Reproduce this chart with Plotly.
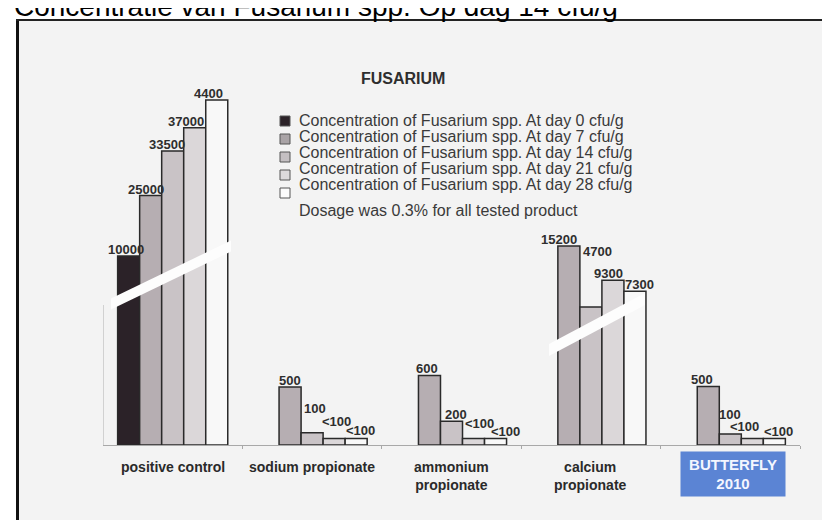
import plotly.graph_objects as go

W, H = 830, 520
FONT = "Liberation Sans, Arial, Helvetica, sans-serif"

# ---------------- data ----------------
title_text = "Concentratie van Fusarium spp. Op dag 14 cfu/g"
chart_title = "FUSARIUM"
note_text = "Dosage was 0.3% for all tested product"

categories = ["positive control", "sodium propionate", "ammonium<br>propionate",
              "calcium<br>propionate", "BUTTERFLY<br>2010"]
series_names = [
    "Concentration of Fusarium spp. At day 0 cfu/g",
    "Concentration of Fusarium spp. At day 7 cfu/g",
    "Concentration of Fusarium spp. At day 14 cfu/g",
    "Concentration of Fusarium spp. At day 21 cfu/g",
    "Concentration of Fusarium spp. At day 28 cfu/g",
]

# bar heights as drawn on the chart's hidden (broken) value axis
day0 = [1630, None, None, None, None]
day7 = [2150, 500, 600, 1715, 505]
day14 = [2535, 105, 205, 1190, 95]
day21 = [2735, 55, 55, 1420, 55]
day28 = [2975, 55, 55, 1325, 55]

# value labels printed on the chart
day0_text = ["10000", None, None, None, None]
day7_text = ["25000", "500", "600", "15200", "500"]
day14_text = ["33500", "100", "200", "4700", "100"]
day21_text = ["37000", "<100", "<100", "9300", "<100"]
day28_text = ["4400", "<100", "<100", "7300", "<100"]

# ---------------- styling / placement ----------------
bar_colors = ["#2b2228", "#b6aeb2", "#c9c3c6", "#dbd7d9", "#f8f8f8"]
legend_colors = ["#2b2228", "#a9a3a6", "#c4bfc2", "#dcd9db", "#fbfbfb"]
# manual offsets (px) of the value labels, as placed in the original
label_dx = [[-3, 0, 0, 0, 0],
            [-5, 0, -2, -10, -6],
            [-6, 3, 4, 7, 0],
            [-9, 2, 6, -4, -8],
            [-8, 4, 10, 5, 4]]
label_dy = [[0, 0, 0, 0, 0],
            [0, 0, 0, 0, 0],
            [0, 18, 0, 49, 13],
            [0, 11, 9, 0, 6],
            [0, 2, 1, 0, 1]]

heights = [day0, day7, day14, day21, day28]
texts = [day0_text, day7_text, day14_text, day21_text, day28_text]

X0, X1 = 95, 792      # plot area (px)
YB, YT = 437, 60
YMAX = 3250
BARGAP = 0.21
BW = (1 - BARGAP) / 5


def px(p):
    return p / W


def py(p):
    return 1 - p / H


def ux(p):  # pixel x -> x-axis units
    return (p - X0) / (X1 - X0) * 5 - 0.5


def uy(p):  # pixel y -> y-axis units
    return (YB - p) / (YB - YT) * YMAX


fig = go.Figure()
xs = list(range(len(categories)))
for s in range(5):
    fig.add_trace(go.Bar(
        x=xs, y=heights[s], name=series_names[s],
        marker=dict(color=bar_colors[s], line=dict(color="#2a2a2a", width=1.5)),
        showlegend=False,
    ))

shapes = []
# frame background + borders
shapes.append(dict(type="rect", xref="paper", yref="paper", x0=px(9), x1=px(900),
                   y0=py(600), y1=py(12), fillcolor="#f3f3f3", line=dict(width=0),
                   layer="below"))
shapes.append(dict(type="line", xref="paper", yref="paper", x0=px(9.5), x1=px(9.5),
                   y0=py(11), y1=py(600), line=dict(color="#111", width=3), layer="below"))
shapes.append(dict(type="line", xref="paper", yref="paper", x0=px(8), x1=px(900),
                   y0=py(12), y1=py(12), line=dict(color="#222", width=2), layer="below"))
# remnant of the value axis below the break
shapes.append(dict(type="line", xref="x", yref="y", x0=-0.5, x1=-0.5, y0=0, y1=uy(297),
                   line=dict(color="#b0b0b0", width=1), layer="below"))


def band(px0, pyc0, px1, pyc1, thick):
    a, b = ux(px0), ux(px1)
    y0a, y0b = uy(pyc0 - thick / 2), uy(pyc0 + thick / 2)
    y1a, y1b = uy(pyc1 - thick / 2), uy(pyc1 + thick / 2)
    return dict(type="path", xref="x", yref="y",
                path=f"M {a},{y0a} L {b},{y1a} L {b},{y1b} L {a},{y0b} Z",
                fillcolor="#fdfdfd", line=dict(width=0), layer="above")


shapes.append(band(103, 296, 223, 238, 11))
shapes.append(band(541, 342, 637, 291, 12))

annotations = []
# page title (cut off at the top, as in the original)
annotations.append(dict(text=title_text, xref="paper", yref="paper", x=px(4), y=py(16),
                        xanchor="left", yanchor="bottom", showarrow=False,
                        font=dict(family=FONT, size=28, color="#000")))
# chart title
annotations.append(dict(text=chart_title, xref="paper", yref="paper", x=px(395), y=py(71),
                        xanchor="center", yanchor="middle", showarrow=False,
                        font=dict(family=FONT, size=16, color="#2e2e2e", weight="bold")))
# custom legend
row_y = [112, 128, 144, 160, 176]
mark_y = [113, 131, 149, 167, 185]
for s in range(5):
    annotations.append(dict(text=series_names[s], xref="paper", yref="paper",
                            x=px(289), y=py(row_y[s]), xanchor="left", yanchor="middle",
                            showarrow=False,
                            font=dict(family=FONT, size=16, color="#3a3a3a")))
    shapes.append(dict(type="rect", xref="paper", yref="paper",
                       x0=px(272), x1=px(282), y0=py(mark_y[s] + 5), y1=py(mark_y[s] - 5),
                       fillcolor=legend_colors[s], line=dict(color="#555", width=1)))
annotations.append(dict(text=note_text, xref="paper", yref="paper", x=px(289), y=py(203),
                        xanchor="left", yanchor="middle", showarrow=False,
                        font=dict(family=FONT, size=16, color="#3a3a3a")))

# value labels
for s in range(5):
    for i in xs:
        t = texts[s][i]
        if t is None:
            continue
        annotations.append(dict(text=t, xref="x", yref="y", x=i + (s - 2) * BW,
                                y=heights[s][i], xanchor="center", yanchor="bottom",
                                xshift=label_dx[s][i], yshift=label_dy[s][i] - 3,
                                showarrow=False,
                                font=dict(family=FONT, size=13, color="#2e2e2e",
                                          weight="bold")))

# category labels
for i, c in enumerate(categories):
    if i == 4:
        annotations.append(dict(text=c, xref="x", yref="paper", x=i, y=py(466),
                                xanchor="center", yanchor="middle", xshift=3,
                                showarrow=False, width=100, height=40, borderpad=2,
                                bgcolor="#5b84d4", align="center",
                                font=dict(family=FONT, size=15, color="#f4f6ff",
                                          weight="bold")))
    else:
        annotations.append(dict(text=c, xref="x", yref="paper", x=i, y=py(449),
                                xanchor="center", yanchor="top", showarrow=False,
                                align="center",
                                font=dict(family=FONT, size=14, color="#2a2a2a",
                                          weight="bold")))

fig.update_layout(
    width=W, height=H,
    margin=dict(l=0, r=0, t=0, b=0),
    paper_bgcolor="#ffffff", plot_bgcolor="rgba(0,0,0,0)",
    barmode="group", bargap=BARGAP, bargroupgap=0,
    shapes=shapes, annotations=annotations,
    xaxis=dict(domain=[px(X0), px(X1)], range=[-0.5, 4.5], showgrid=False, zeroline=False,
               showline=True, linecolor="#a8a8a8", linewidth=1,
               tickmode="array", tickvals=[0.5, 1.5, 2.5, 3.5, 4.5], ticks="outside",
               ticklen=3, tickcolor="#a8a8a8", showticklabels=False, fixedrange=True),
    yaxis=dict(domain=[py(YB), py(YT)], range=[0, YMAX], visible=False, fixedrange=True),
    font=dict(family=FONT),
)

fig.write_html("out.html")
